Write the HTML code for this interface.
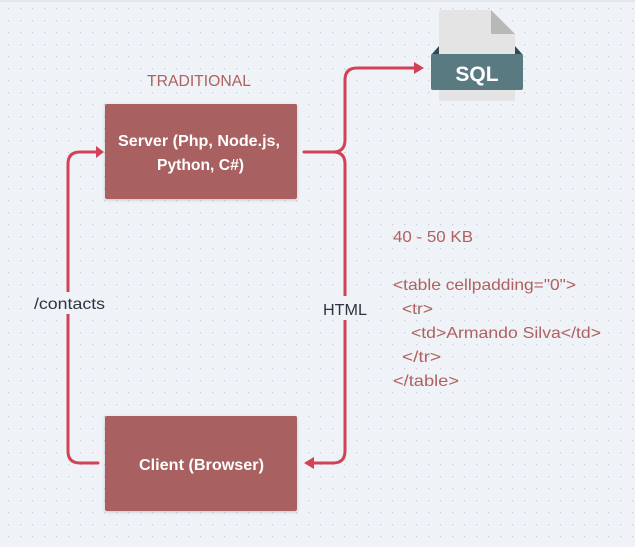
<!DOCTYPE html>
<html><head><meta charset="utf-8"><style>
html,body{margin:0;padding:0;background:#eff3f7;}
body{width:635px;height:542px;overflow:hidden;font-family:"Liberation Sans",sans-serif;}
</style></head><body>
<svg width="635" height="542" xmlns="http://www.w3.org/2000/svg" font-family="Liberation Sans, sans-serif">
<defs>
<pattern id="d" x="8" y="8" width="12" height="12" patternUnits="userSpaceOnUse"><rect x="0" y="0" width="1.3" height="1.3" fill="#c9d0d8"/></pattern>
<filter id="s" x="-10%" y="-10%" width="120%" height="130%"><feDropShadow dx="0" dy="1" stdDeviation="1.5" flood-color="#000" flood-opacity="0.18"/></filter>
</defs>
<rect width="635" height="542" fill="#eff3f7"/>
<rect width="635" height="542" fill="url(#d)"/>
<rect x="0" y="0" width="635" height="2" fill="#e3e7eb"/>

<text x="147" y="86" font-size="16" fill="#b0605e" textLength="104" lengthAdjust="spacingAndGlyphs">TRADITIONAL</text>

<rect x="105" y="104" width="192" height="95" rx="2" fill="#a96060" filter="url(#s)"/>
<text x="118" y="146" font-size="15.5" font-weight="bold" fill="#fff" textLength="162" lengthAdjust="spacingAndGlyphs">Server (Php, Node.js,</text>
<text x="157" y="170" font-size="15.5" font-weight="bold" fill="#fff" textLength="87" lengthAdjust="spacingAndGlyphs">Python, C#)</text>

<rect x="105" y="416" width="192" height="95" rx="2" fill="#a96060" filter="url(#s)"/>
<text x="139" y="470" font-size="15.5" font-weight="bold" fill="#fff" textLength="125" lengthAdjust="spacingAndGlyphs">Client (Browser)</text>

<g fill="none" stroke="#d24257" stroke-width="3" stroke-linecap="round">
<path d="M98 463 H80 Q68 463 68 451 V164 Q68 152 80 152 H98"/>
<path d="M304 152 H333 Q345 152 345 140 V80 Q345 68 357 68 H414"/>
<path d="M333 152 Q345 152 345 164 V451 Q345 463 333 463 H314"/>
</g>
<path d="M104 152 L96 146 V158 Z" fill="#d24257"/>
<path d="M424 68 L414 62 V74 Z" fill="#d24257"/>
<path d="M304 463 L314 457 V469 Z" fill="#d24257"/>

<rect x="30" y="292" width="78" height="22" fill="#eff3f7"/>
<text x="34" y="309" font-size="16" fill="#2b3440" textLength="71" lengthAdjust="spacingAndGlyphs">/contacts</text>
<rect x="320" y="296" width="50" height="24" fill="#eff3f7"/>
<text x="323" y="315" font-size="16" fill="#2b3440" textLength="44" lengthAdjust="spacingAndGlyphs">HTML</text>

<g>
<path d="M441 10 H491 L515 34 V99 Q515 101 513 101 H441 Q439 101 439 99 V12 Q439 10 441 10 Z" fill="#e4e4e4"/>
<path d="M491 10 L515 34 H491 Z" fill="#b8b8b8"/>
<path d="M431 55 L439 46 V55 Z M523 55 L515 46 V55 Z" fill="#2f4a55"/>
<rect x="431" y="54" width="92" height="36" rx="2" fill="#5a7a82"/>
<text x="477" y="81" text-anchor="middle" font-size="21" font-weight="bold" fill="#fff">SQL</text>
</g>

<g font-size="16" fill="#b0605e" lengthAdjust="spacingAndGlyphs">
<text x="393" y="242" textLength="80" lengthAdjust="spacingAndGlyphs">40 - 50 KB</text>
<text x="393" y="290" textLength="183" lengthAdjust="spacingAndGlyphs">&lt;table cellpadding="0"&gt;</text>
<text x="402" y="314" textLength="31" lengthAdjust="spacingAndGlyphs">&lt;tr&gt;</text>
<text x="411" y="338" textLength="190" lengthAdjust="spacingAndGlyphs">&lt;td&gt;Armando Silva&lt;/td&gt;</text>
<text x="402" y="362" textLength="39" lengthAdjust="spacingAndGlyphs">&lt;/tr&gt;</text>
<text x="393" y="386" textLength="66" lengthAdjust="spacingAndGlyphs">&lt;/table&gt;</text>
</g>
</svg>
</body></html>
